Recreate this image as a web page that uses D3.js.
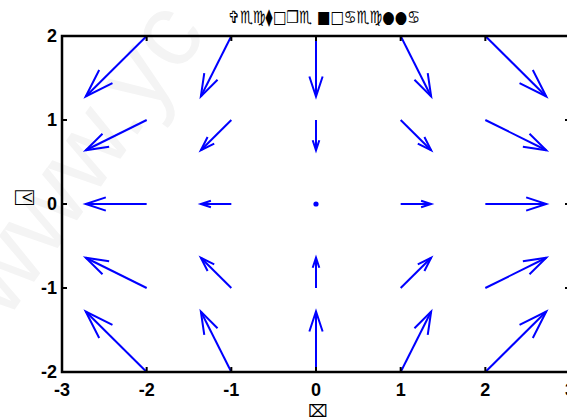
<!DOCTYPE html>
<html>
<head>
<meta charset="utf-8">
<script src="https://cdn.jsdelivr.net/npm/d3@7"></script>
<style>
  html, body { margin: 0; padding: 0; background: #fff; }
  svg { display: block; }
  .tick-label { font-family: "Liberation Sans", Arial, sans-serif; font-weight: bold; font-size: 18px; fill: #000; }
  .sym { font-family: "DejaVu Sans", "Noto Sans", sans-serif; fill: #000; }
</style>
</head>
<body>
<svg id="chart" width="567" height="420"></svg>
<script>
// Grid positions of the vector field
const gridX = [-2, -1, 0, 1, 2];
const gridY = [2, 1, 0, -1, -2];
// Horizontal components, one row per gridY value
const uRows = [
  [-2, -1, 0, 1, 2],
  [-2, -1, 0, 1, 2],
  [-2, -1, 0, 1, 2],
  [-2, -1, 0, 1, 2],
  [-2, -1, 0, 1, 2]
];
// Vertical components, one row per gridY value
const vRows = [
  [-2, -2, -2, -2, -2],
  [-1, -1, -1, -1, -1],
  [ 0,  0,  0,  0,  0],
  [ 1,  1,  1,  1,  1],
  [ 2,  2,  2,  2,  2]
];
const xTicks = [-3, -2, -1, 0, 1, 2, 3];
const yTicks = [-2, -1, 0, 1, 2];
const titleText = "✞♏♍⧫□❒♏ ■□♋♏♍●●♋";
const xLabelText = "⌧";
const yLabelText = "⍓";
const watermarkText = "www.yc";

(function draw() {
  const svg = d3.select("#chart");
  const W = 567, H = 420;
  const mLeft = 62, mRight = 570, mTop = 36, mBottom = 372;

  svg.append("rect").attr("width", W).attr("height", H).attr("fill", "#fff");

  // faint diagonal watermark
  svg.append("text")
    .attr("transform", "translate(6,322) rotate(-55)")
    .attr("font-family", "Liberation Sans, Arial, sans-serif")
    .attr("font-size", 104)
    .attr("fill", "#f4f4f4")
    .text(watermarkText);

  const x = d3.scaleLinear().domain([-3, 3]).range([mLeft, mRight]);
  const y = d3.scaleLinear().domain([-2, 2]).range([mBottom, mTop]);

  // flatten the field
  const field = [];
  gridY.forEach((gy, i) => gridX.forEach((gx, j) => {
    field.push({ x: gx, y: gy, u: uRows[i][j], v: vRows[i][j] });
  }));

  // quiver-style autoscale: 0.9 of grid spacing for the longest vector, then a 0.8 factor
  const dx = 1, dy = 1;
  const maxLen = d3.max(field, d => Math.sqrt((d.u * d.u + d.v * d.v) / (dx * dx + dy * dy)));
  const scaleFactor = 0.8 * 0.9 / maxLen;
  const alpha = 0.33, beta = 0.33;

  const line = d3.line().x(p => x(p[0])).y(p => y(p[1]));
  const g = svg.append("g");
  field.forEach(d => {
    const u = d.u * scaleFactor, v = d.v * scaleFactor;
    if (u === 0 && v === 0) {
      g.append("circle").attr("cx", x(d.x)).attr("cy", y(d.y)).attr("r", 2.6).attr("fill", "#0000ff");
      return;
    }
    const tx = d.x + u, ty = d.y + v;
    const h1 = [tx - alpha * (u + beta * v), ty - alpha * (v - beta * u)];
    const h2 = [tx - alpha * (u - beta * v), ty - alpha * (v + beta * u)];
    g.append("path").attr("d", line([[d.x, d.y], [tx, ty]]))
      .attr("stroke", "#0000ff").attr("stroke-width", 2).attr("fill", "none");
    g.append("path").attr("d", line([h1, [tx, ty], h2]))
      .attr("stroke", "#0000ff").attr("stroke-width", 2).attr("fill", "none");
  });

  // axes box
  const axisG = svg.append("g");
  const tickLen = 5;
  axisG.append("rect")
    .attr("x", mLeft).attr("y", mTop).attr("width", mRight - mLeft).attr("height", mBottom - mTop)
    .attr("fill", "none").attr("stroke", "#000").attr("stroke-width", 2.5);

  xTicks.forEach(t => {
    axisG.append("line").attr("x1", x(t)).attr("x2", x(t)).attr("y1", mBottom).attr("y2", mBottom - tickLen)
      .attr("stroke", "#000").attr("stroke-width", 2);
    axisG.append("line").attr("x1", x(t)).attr("x2", x(t)).attr("y1", mTop).attr("y2", mTop + tickLen)
      .attr("stroke", "#000").attr("stroke-width", 2);
    axisG.append("text").attr("class", "tick-label")
      .attr("x", x(t)).attr("y", 396).attr("text-anchor", "middle").text(t);
  });
  yTicks.forEach(t => {
    axisG.append("line").attr("x1", mLeft).attr("x2", mLeft + tickLen).attr("y1", y(t)).attr("y2", y(t))
      .attr("stroke", "#000").attr("stroke-width", 2);
    axisG.append("line").attr("x1", mRight).attr("x2", mRight - tickLen).attr("y1", y(t)).attr("y2", y(t))
      .attr("stroke", "#000").attr("stroke-width", 2);
    axisG.append("text").attr("class", "tick-label")
      .attr("x", mLeft - 5).attr("y", y(t)).attr("dy", "0.36em").attr("text-anchor", "end").text(t);
  });

  // title and axis labels
  svg.append("text").attr("class", "sym")
    .attr("x", 228).attr("y", 23).attr("text-anchor", "start").attr("font-size", 17)
    .attr("font-weight", "bold")
    .attr("textLength", 192).attr("lengthAdjust", "spacingAndGlyphs")
    .text(titleText);
  svg.append("text").attr("class", "sym")
    .attr("x", 318).attr("y", 417).attr("text-anchor", "middle").attr("font-size", 17)
    .text(xLabelText);
  svg.append("text").attr("class", "sym")
    .attr("transform", "translate(34,197) rotate(-90)")
    .attr("text-anchor", "middle").attr("font-size", 28)
    .text(yLabelText);
})();
</script>
</body>
</html>
